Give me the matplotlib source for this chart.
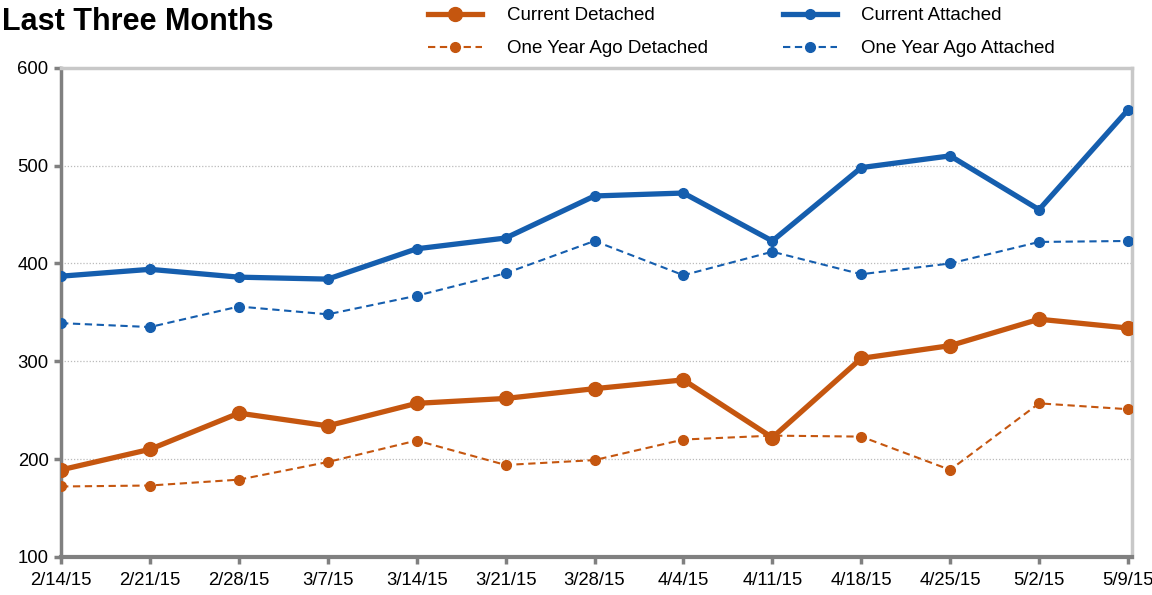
import matplotlib.pyplot as plt
import numpy as np

plt.rcParams['font.family'] = ['Liberation Sans', 'DejaVu Sans']

weeks = ['2/14/15', '2/21/15', '2/28/15', '3/7/15', '3/14/15', '3/21/15', '3/28/15',
         '4/4/15', '4/11/15', '4/18/15', '4/25/15', '5/2/15', '5/9/15']

cur_detached = [189, 210, 247, 234, 257, 262, 272, 281, 222, 303, 316, 343, 334]
cur_attached = [387, 394, 386, 384, 415, 426, 469, 472, 423, 498, 510, 455, 557]
ago_detached = [172, 173, 179, 197, 219, 194, 199, 220, 224, 223, 189, 257, 251]
ago_attached = [339, 335, 356, 348, 367, 390, 423, 388, 412, 389, 400, 422, 423]

orange = '#C5560F'
blue = '#155EAE'

fig = plt.figure(figsize=(11.52, 5.95), dpi=100)
ax = fig.add_axes([0.053, 0.064, 0.930, 0.822])

x = np.arange(len(weeks))
l1, = ax.plot(x, cur_detached, color=orange, lw=3.8, marker='o', ms=10, label='Current Detached', zorder=4)
l2, = ax.plot(x, ago_detached, color=orange, lw=1.5, ls=(0, (3.5, 2.2)), marker='o', ms=7,
              label='One Year Ago Detached', zorder=3)
l3, = ax.plot(x, cur_attached, color=blue, lw=3.8, marker='o', ms=7, label='Current Attached', zorder=4)
l4, = ax.plot(x, ago_attached, color=blue, lw=1.5, ls=(0, (3.5, 2.2)), marker='o', ms=7,
              label='One Year Ago Attached', zorder=3)

ax.set_xlim(0, 12.05)
ax.set_ylim(100, 600)
ax.set_yticks([100, 200, 300, 400, 500, 600])
ax.set_xticks(x)
ax.set_xticklabels(weeks)
ax.tick_params(labelsize=13.3, color='#808080', length=5, width=2.5)
ax.tick_params(axis='x', pad=6)
ax.tick_params(axis='y', pad=4)

ax.yaxis.grid(True, ls=(0, (1, 1.5)), color='#BBBBBB', lw=0.9)
ax.set_axisbelow(True)

ax.spines['left'].set_color('#808080')
ax.spines['left'].set_linewidth(2.5)
ax.spines['bottom'].set_color('#808080')
ax.spines['bottom'].set_linewidth(3)
ax.spines['top'].set_color('#C8C8C8')
ax.spines['top'].set_linewidth(2.5)
ax.spines['right'].set_color('#C8C8C8')
ax.spines['right'].set_linewidth(2.5)

fig.text(0.002, 0.963, 'Last Three Months', fontsize=22, fontweight='bold',
         va='center', ha='left')

fig.legend(handles=[l1, l2, l3, l4], ncol=2, loc='center left', bbox_to_anchor=(0.3715, 0.946),
           frameon=False, fontsize=13.5, handlelength=2.9, handletextpad=1.3,
           columnspacing=4.0, labelspacing=0.85, borderaxespad=0, borderpad=0)

fig.savefig('out.png', dpi=100)
